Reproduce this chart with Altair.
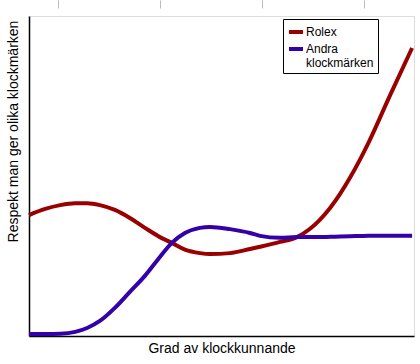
import altair as alt
import pandas as pd

x_vals = [0, 4.2, 8.1, 12.0, 15.1, 18.4, 22.3, 26.2, 30.1, 34.0, 37.1, 40.5, 44.4, 47.0, 52.2, 57.4,
          60.0, 65.2, 69.6, 73.0, 75.6, 78.2, 80.8, 83.4, 86.0, 88.1, 93.8, 99.5]
rolex = [37.8, 39.7, 40.9, 41.5, 41.5, 40.9, 39.4, 36.9, 33.8, 30.9, 29.1, 27.0, 25.9, 25.6, 25.9, 27.2,
         27.9, 29.4, 30.9, 33.5, 36.4, 40.0, 44.4, 49.5, 55.2, 60.2, 75.3, 90.0]
andra = [0.6, 0.6, 0.7, 1.3, 2.5, 4.7, 8.8, 13.8, 18.8, 24.7, 29.1, 32.2, 33.8, 34.1, 33.4, 32.2,
         31.3, 30.7, 30.9, 30.9, 30.9, 31.0, 31.1, 31.2, 31.25, 31.3, 31.3, 31.3]
series_names = ["Rolex", "Andra klockmärken"]
series_colors = ["#990000", "#3300aa"]
top_ticks = [7.5, 34.0, 60.5, 87.0]

rows = []
for name, ys in zip(series_names, [rolex, andra]):
    for xv, yv in zip(x_vals, ys):
        rows.append({"x": xv, "y": yv, "serie": name})
df = pd.DataFrame(rows)
ticks_df = pd.DataFrame({"x": top_ticks})

font = "Liberation Sans"

xscale = alt.Scale(domain=[0, 100], nice=False, zero=False)
yscale = alt.Scale(domain=[0, 100], nice=False, zero=False)

legend = alt.Legend(
    title=None, orient="none", legendX=254, legendY=3,
    symbolType="stroke", symbolStrokeWidth=4, symbolSize=196,
    labelFont=font, labelFontSize=12, labelColor="black",
    strokeColor="black", fillColor="white", padding=4,
    labelExpr="datum.label == 'Andra klockmärken' ? ['Andra', 'klockmärken'] : datum.label",
    labelBaseline="middle", labelOffset=1, rowPadding=0, labelLimit=200,
)

lines = alt.Chart(df).mark_line(strokeWidth=4, interpolate="monotone").encode(
    x=alt.X("x:Q", scale=xscale,
            axis=alt.Axis(title="Grad av klockkunnande", orient="bottom", domain=True,
                          domainColor="black", domainWidth=1.5, ticks=False, labels=False,
                          grid=False, titleFont=font, titleFontSize=14, titleFontWeight="normal",
                          titleColor="black", titlePadding=5)),
    y=alt.Y("y:Q", scale=yscale,
            axis=alt.Axis(title="Respekt man ger olika klockmärken", domain=True,
                          domainColor="black", domainWidth=1.5, ticks=False, labels=False,
                          grid=False, titleFont=font, titleFontSize=14, titleFontWeight="normal",
                          titleColor="black", titleX=-16, titleY=115, titleAngle=-90,
                          titleBaseline="middle", titleAlign="center")),
    color=alt.Color("serie:N", sort=series_names,
                    scale=alt.Scale(domain=series_names, range=series_colors),
                    legend=legend),
)

topticks = alt.Chart(ticks_df).mark_point(opacity=0).encode(
    x=alt.X("x:Q", scale=xscale,
            axis=alt.Axis(orient="top", values=top_ticks, domain=False, labels=False, grid=False,
                          ticks=True, tickColor="#bbbbbb", tickSize=8, tickWidth=1, offset=8,
                          title=None)),
    y=alt.value(0),
)

chart = alt.layer(topticks, lines).resolve_axis(x="independent").properties(
    width=385, height=320,
    autosize=alt.AutoSizeParams(type="none"),
    padding={"left": 29, "top": 16, "right": 6, "bottom": 28},
).configure_view(stroke=None).configure(background="white")

chart.save("out.html", embed_options={"renderer": "svg", "actions": False})
